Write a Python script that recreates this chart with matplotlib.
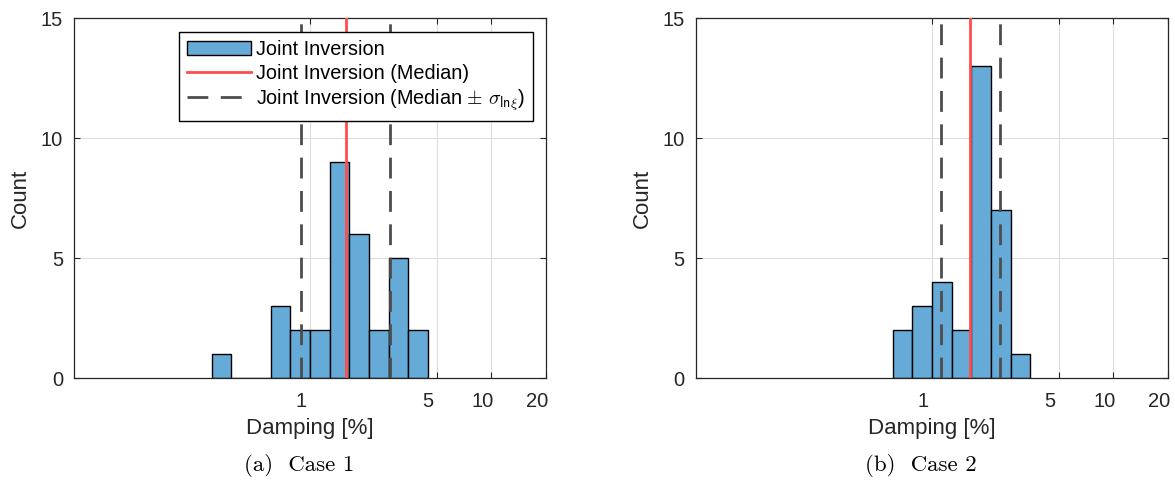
import numpy as np
import matplotlib
matplotlib.use('Agg')
import matplotlib.pyplot as plt
import matplotlib.transforms as mtransforms
from matplotlib.patches import Patch
from matplotlib.lines import Line2D

# histogram bins are in ln(damping) space, width 0.25
ln_edges_1 = [-1.25, -1.0, -0.75, -0.5, -0.25, 0.0, 0.25, 0.5, 0.75, 1.0, 1.25, 1.5]
counts_1 = [1, 0, 0, 3, 2, 2, 9, 6, 2, 5, 2]
median_1 = 1.57   # damping [%]
sigma_ln_1 = 0.56

ln_edges_2 = [-0.5, -0.25, 0.0, 0.25, 0.5, 0.75, 1.0, 1.25]
counts_2 = [2, 3, 4, 2, 13, 7, 1]
median_2 = 1.63
sigma_ln_2 = 0.37

xticks = [1, 5, 10, 20]
yticks = [0, 5, 10, 15]
captions = ['(a)  Case 1', '(b)  Case 2']

bar_color = '#66AAD7'
med_color = '#FF4D4D'
dash_color = '#4D4D4D'
txt_color = '#262626'

plt.rcParams['font.family'] = ['Liberation Sans', 'DejaVu Sans']
plt.rcParams['mathtext.fontset'] = 'cm'

fig = plt.figure(figsize=(11.75, 4.83), dpi=100)
ax1 = fig.add_axes([0.063, 0.2168, 0.4017, 0.7453])
ax2 = fig.add_axes([0.592, 0.2168, 0.4023, 0.7453])

panels = [(ax1, ln_edges_1, counts_1, median_1, sigma_ln_1),
          (ax2, ln_edges_2, counts_2, median_2, sigma_ln_2)]

for i, (ax, ln_edges, counts, med, sig) in enumerate(panels):
    edges = np.exp(ln_edges)
    centers = np.sqrt(edges[:-1] * edges[1:])
    ax.hist(centers, bins=edges, weights=counts, color=bar_color,
            edgecolor='black', linewidth=1.0, zorder=2)
    ax.axvline(med, color=med_color, lw=2.0, zorder=3)
    for v in [med * np.exp(-sig), med * np.exp(sig)]:
        ax.axvline(v, color=dash_color, lw=2.0, dashes=(7.5, 4.5), zorder=3)

    ax.set_xscale('log')
    ax.set_xlim(np.exp(-3), np.exp(3))
    ax.set_ylim(0, 15)
    ax.set_xticks(xticks)
    ax.set_xticklabels([str(t) for t in xticks])
    ax.xaxis.set_minor_locator(matplotlib.ticker.NullLocator())
    ax.set_yticks(yticks)
    ax.grid(True, color='#DCDCDC', lw=0.8, zorder=0)
    ax.set_axisbelow(True)
    ax.tick_params(direction='in', length=4, width=0.8, labelsize=14.5,
                   colors=txt_color, top=True, right=True)
    ax.tick_params(axis='x', pad=10)
    ax.tick_params(axis='y', pad=8)
    for s in ax.spines.values():
        s.set_color(txt_color)
        s.set_linewidth(0.9)
    # shift the x tick labels a bit left, as in the source picture
    off = mtransforms.ScaledTranslation(-9 / 100, 0, fig.dpi_scale_trans)
    for lab in ax.get_xticklabels():
        lab.set_transform(lab.get_transform() + off)
    ax.set_xlabel('Damping [%]', fontsize=16, color=txt_color, labelpad=5)
    ax.set_ylabel('Count', fontsize=16, color=txt_color, labelpad=7)
    ax.text(0.477, -0.243, captions[i], transform=ax.transAxes, ha='center',
            va='center', fontsize=16.5, family='cmr10')

handles = [Patch(facecolor=bar_color, edgecolor='black', lw=1.0),
           Line2D([], [], color=med_color, lw=2.0),
           Line2D([], [], color=dash_color, lw=2.0, dashes=(7.5, 4.5))]
labels = ['Joint Inversion', 'Joint Inversion (Median)',
          r'Joint Inversion (Median $\pm\ \sigma_{\mathsf{ln}\xi}$)']
leg = ax1.legend(handles, labels, loc='upper right', bbox_to_anchor=(0.973, 0.961),
                 borderaxespad=0, fontsize=14.3, fancybox=False, framealpha=1,
                 edgecolor='black', handlelength=3.2, labelspacing=0.22,
                 handletextpad=0.3, borderpad=0.4)
leg.get_frame().set_linewidth(1.0)
leg.set_zorder(5)

fig.savefig('out.png', dpi=100)
